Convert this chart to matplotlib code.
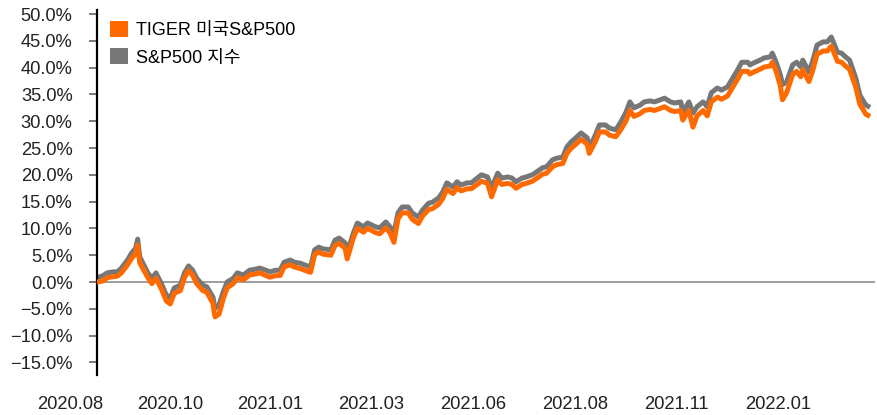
import matplotlib
matplotlib.use("Agg")
import matplotlib.pyplot as plt
from matplotlib.patches import Patch
from matplotlib.ticker import FuncFormatter

plt.rcParams['font.family'] = ['Liberation Sans', 'Noto Sans CJK KR', 'DejaVu Sans']
plt.rcParams['axes.unicode_minus'] = True

# trading-day index (from listing day) and cumulative return, %
days = [0, 3, 5, 8, 10, 12, 15, 17, 19, 20, 21, 23, 25, 27, 29, 32, 34, 36, 38, 41,
        43, 45, 47, 49, 52, 54, 57, 58, 60, 62, 64, 67, 69, 72, 75, 78, 80, 83, 85, 88,
        90, 92, 95, 97, 100, 102, 105, 107, 109, 111, 115, 117, 119, 122, 123, 126, 128, 131, 133, 137,
        139, 142, 144, 146, 148, 150, 153, 155, 158, 160, 163, 165, 168, 170, 172, 175, 177, 179, 182, 184,
        187, 189, 192, 194, 197, 199, 202, 204, 206, 209, 211, 214, 216, 219, 221, 224, 226, 229, 231, 233,
        236, 238, 241, 242, 245, 247, 250, 252, 255, 257, 260, 262, 264, 267, 269, 272, 274, 277, 279, 282,
        284, 287, 288, 291, 293, 295, 298, 300, 302, 305, 307, 310, 312, 315, 317, 320, 321, 323, 326, 328,
        331, 332, 334, 336, 337, 339, 342, 344, 346, 347, 350, 352, 354, 357, 359, 361, 362, 364, 366, 368,
        370, 373, 375, 378, 379]

sp500 = [0.8, 1.2, 1.7, 1.9, 1.9, 2.6, 4.1, 5.4, 6.3, 8.0, 4.7, 3.2, 1.7, 0.7, 1.7, -0.6, -2.4, -3.0, -1.1, -0.6,
         1.7, 3.0, 2.2, 0.7, -0.6, -0.9, -2.8, -4.9, -4.3, -1.9, 0.0, 0.7, 1.7, 1.3, 2.2, 2.4, 2.6, 2.2, 1.9, 2.2,
         2.2, 3.7, 4.1, 3.7, 3.5, 3.2, 2.8, 6.0, 6.5, 6.2, 6.0, 7.8, 8.2, 7.3, 5.4, 9.1, 11.0, 10.3, 11.0, 10.3,
         10.1, 11.2, 10.3, 9.1, 12.9, 14.0, 14.0, 12.9, 12.1, 13.4, 14.7, 14.9, 15.7, 16.8, 18.5, 17.7, 18.7, 18.1, 18.5, 18.5,
         19.4, 20.0, 19.6, 17.5, 20.3, 19.4, 19.6, 19.4, 18.7, 19.4, 19.6, 20.0, 20.5, 21.3, 21.5, 22.8, 23.1, 23.3, 25.2, 26.1,
         27.1, 27.8, 26.9, 25.0, 27.4, 29.3, 29.3, 28.7, 28.4, 29.5, 31.6, 33.6, 32.5, 33.0, 33.6, 33.8, 33.6, 34.0, 34.3, 33.6,
         33.4, 33.6, 31.7, 33.6, 31.5, 32.7, 33.6, 32.7, 35.3, 36.2, 35.8, 36.4, 37.7, 39.6, 41.0, 41.0, 40.5, 40.9, 41.4, 41.8,
         42.0, 42.7, 40.9, 38.6, 36.8, 37.3, 40.5, 41.0, 40.1, 41.4, 39.2, 41.4, 44.2, 44.8, 44.8, 45.7, 44.8, 42.9, 42.7, 42.0,
         41.4, 38.1, 34.9, 33.0, 32.8]

tiger = [0.0, 0.2, 0.8, 1.0, 1.1, 1.7, 3.2, 4.4, 5.3, 6.9, 3.6, 2.2, 0.8, -0.3, 0.7, -1.6, -3.5, -4.1, -2.1, -1.6,
         0.8, 2.1, 1.3, -0.3, -1.6, -1.9, -4.0, -6.5, -6.0, -3.2, -1.1, -0.3, 0.8, 0.4, 1.3, 1.5, 1.7, 1.2, 0.9, 1.2,
         1.2, 2.8, 3.2, 2.8, 2.5, 2.2, 1.8, 5.1, 5.6, 5.2, 5.0, 6.8, 7.2, 6.3, 4.3, 8.2, 10.0, 9.3, 10.0, 9.2,
         9.0, 10.1, 9.2, 7.4, 11.8, 12.9, 12.9, 11.7, 10.9, 12.3, 13.5, 13.7, 14.5, 15.6, 17.3, 16.5, 17.6, 17.0, 17.4, 17.4,
         18.2, 18.8, 18.4, 15.9, 19.1, 18.2, 18.4, 18.2, 17.5, 18.2, 18.4, 18.8, 19.3, 20.1, 20.3, 21.5, 21.9, 22.1, 24.0, 24.9,
         25.9, 26.6, 25.7, 24.0, 26.2, 28.0, 28.0, 27.4, 27.1, 28.1, 30.0, 32.0, 30.9, 31.4, 32.0, 32.2, 32.0, 32.4, 32.7, 32.0,
         31.8, 32.0, 30.2, 32.0, 28.9, 31.0, 32.0, 31.0, 33.6, 34.5, 34.1, 34.7, 36.0, 37.9, 39.3, 39.3, 38.8, 39.2, 39.7, 40.1,
         40.3, 41.0, 39.2, 36.5, 34.0, 35.3, 38.7, 39.3, 38.3, 39.6, 37.4, 39.6, 42.5, 43.1, 43.1, 44.0, 43.1, 41.2, 41.0, 40.3,
         39.7, 36.4, 33.2, 31.3, 31.1]

x_labels = ['2020.08', '2020.10', '2021.01', '2021.03', '2021.06', '2021.08', '2021.11', '2022.01']
x_label_days = [-13, 36, 85, 135, 185, 235, 285, 335]

orange = '#ff6a00'
grey = '#777777'

fig = plt.figure(figsize=(8.77, 4.15), dpi=100)
ax = fig.add_axes([97 / 877, 1 - 375 / 415, 778 / 877, 365 / 415])

ax.axhline(0, color='#8c8c8c', lw=1.2, zorder=1)
ax.plot(days, sp500, color=grey, lw=3.6, solid_joinstyle='round', zorder=2)
ax.plot(days, tiger, color=orange, lw=3.6, solid_joinstyle='round', zorder=3)

ax.set_xlim(0, 382.5)
ax.set_ylim(-17.35, 50.75)
ax.set_yticks(range(-15, 51, 5))
ax.yaxis.set_major_formatter(FuncFormatter(lambda v, p: f'{v:.1f}%'.replace('-', '\u2212')))
ax.tick_params(axis='y', length=6, width=1.2, color='#666666', pad=11.5,
               labelsize=13.2, labelcolor='#222222')
ax.set_xticks([])

for s in ['top', 'right', 'bottom']:
    ax.spines[s].set_visible(False)
ax.spines['left'].set_linewidth(1.6)
ax.spines['left'].set_color('black')

for lab, d in zip(x_labels, x_label_days):
    ax.text(d, -0.082, lab, transform=ax.get_xaxis_transform(), ha='center', va='center',
            fontsize=13.2, color='#222222', clip_on=False)

handles = [Patch(facecolor=orange, edgecolor='none'), Patch(facecolor=grey, edgecolor='none')]
fig.legend(handles, ['TIGER 미국S&P500', 'S&P500 지수'], loc='upper left',
           bbox_to_anchor=(110 / 877, 1 - 21 / 415), frameon=False, fontsize=13,
           handlelength=1.0, handleheight=1.0, handletextpad=0.45, labelspacing=0.5,
           borderpad=0, borderaxespad=0)

fig.savefig('out.png', dpi=100)
